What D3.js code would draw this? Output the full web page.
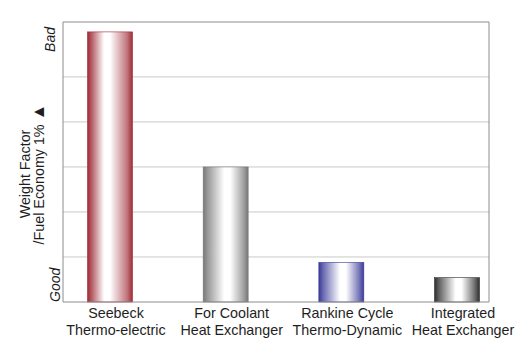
<!DOCTYPE html>
<html><head><meta charset="utf-8">
<script src="https://cdn.jsdelivr.net/npm/d3@7"></script>
<style>html,body{margin:0;padding:0;background:#fff;}svg{display:block;font-family:Arial,"Liberation Sans",sans-serif;}</style>
</head><body><svg id="c" width="532" height="343"></svg>
<script>
const categories = ["Seebeck|Thermo-electric", "For Coolant|Heat Exchanger", "Rankine Cycle|Thermo-Dynamic", "Integrated|Heat Exchanger"];
const values = [6.0, 3.0, 0.88, 0.54];
const edgeColors = ["#9f2b37", "#777777", "#3a3a98", "#2e2e2e"];
const gridTicks = [1, 2, 3, 4, 5];
const yLabels = ["Good", "Bad"];
const yTitle = ["Weight Factor", "/Fuel Economy 1%"];

const svg = d3.select("#c");
const L = 63, R = 489, T = 22, B = 302;
const y = d3.scaleLinear().domain([0, 6.22]).range([B, T]);
const x = d3.scalePoint().domain(categories).range([110, 457]);
const bw = 45;

const defs = svg.append("defs");
categories.forEach((c, i) => {
  const g = defs.append("linearGradient").attr("id", "g" + i).attr("x1", "0").attr("x2", "1").attr("y1", "0").attr("y2", "0");
  const col = d3.color(edgeColors[i]);
  const mid = i === 0 ? 0.45 : 0.55;
  const stops = [[0, col], [0.1, d3.interpolateRgb(col, "#fff")(0.25)], [mid - 0.08, d3.color("#fff")], [mid + 0.05, d3.color("#fff")], [0.88, d3.interpolateRgb(col, "#fff")(0.35)], [1, col]];
  stops.forEach(s => g.append("stop").attr("offset", s[0]).attr("stop-color", d3.color(s[1]).formatHex()));
});

// grid
svg.append("g").selectAll("line").data(gridTicks).join("line")
  .attr("x1", L).attr("x2", R).attr("y1", d => y(d)).attr("y2", d => y(d))
  .attr("stroke", "#c9c9c9").attr("stroke-width", 1);

// frame
svg.append("path").attr("d", `M${L},${B}V${T}H${R}V${B}`).attr("fill", "none").attr("stroke", "#8c8c8c").attr("stroke-width", 1);

// bars
svg.append("g").selectAll("rect").data(categories).join("rect")
  .attr("x", d => x(d) - bw / 2).attr("width", bw)
  .attr("y", (d, i) => y(values[i])).attr("height", (d, i) => y(0) - y(values[i]))
  .attr("fill", (d, i) => `url(#g${i})`)
  .attr("stroke", (d, i) => edgeColors[i]).attr("stroke-width", 0.6);

// bottom axis line
svg.append("line").attr("x1", L).attr("x2", R).attr("y1", B).attr("y2", B).attr("stroke", "#8c8c8c");

// x labels
const xl = svg.append("g").attr("font-size", 14.3).attr("fill", "#1e1e1e").attr("text-anchor", "middle");
categories.forEach(c => {
  const parts = c.split("|");
  parts.forEach((p, j) => {
    xl.append("text").attr("x", x(c) + 6).attr("y", 318 + j * 16.5).text(p);
  });
});

// y end labels
svg.append("text").attr("transform", `translate(60,${B}) rotate(-90)`).attr("font-size", 14).attr("font-style", "italic").attr("fill", "#1e1e1e").text(yLabels[0]);
svg.append("text").attr("transform", `translate(55,${T + 5}) rotate(-90)`).attr("text-anchor", "end").attr("font-size", 14).attr("font-style", "italic").attr("fill", "#1e1e1e").text(yLabels[1]);

// y title
yTitle.forEach((t, j) => {
  const tx = svg.append("text").attr("transform", `translate(${30 + j * 14},${(T + B) / 2 + 12}) rotate(-90)`)
    .attr("text-anchor", "middle").attr("font-size", 14.3).attr("fill", "#1e1e1e");
  tx.append("tspan").text(t);
  if (j === 1) tx.append("tspan").attr("font-size", 17).attr("dx", 4).text("\u25B2");
});
</script></body></html>
